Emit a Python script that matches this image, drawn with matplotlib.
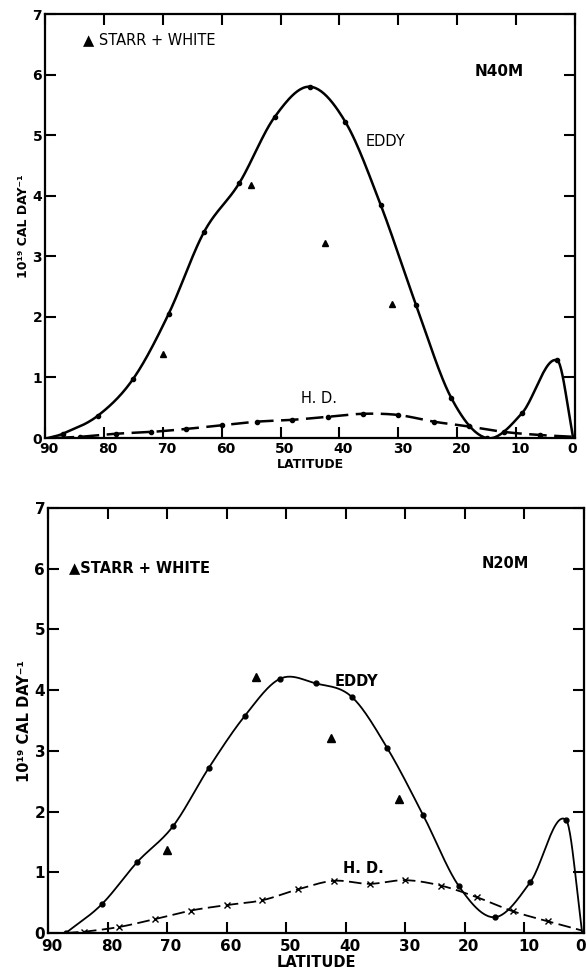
import numpy as np
import matplotlib
matplotlib.use("Agg")
import matplotlib.pyplot as plt
import matplotlib.transforms as mtransforms

plt.rcParams['font.family'] = ['DejaVu Sans']

# --- N40M (upper panel) ---
n40_eddy_lat = [89.5, 87, 81, 75, 69, 63, 57, 51, 45, 39, 33, 27, 21, 15, 9, 3, 0.3]
n40_eddy_val = [0.0, 0.07, 0.37, 0.98, 2.05, 3.40, 4.21, 5.30, 5.80, 5.22, 3.85, 2.20, 0.66, 0.0, 0.41, 1.28, 0.0]
n40_hd_lat = [88, 84, 78, 72, 66, 60, 54, 48, 42, 36, 30, 24, 18, 12, 6, 0.3]
n40_hd_val = [0.0, 0.02, 0.07, 0.10, 0.15, 0.21, 0.27, 0.30, 0.35, 0.40, 0.38, 0.27, 0.19, 0.10, 0.05, 0.02]
n40_sw_val = [1.38, 4.18, 3.22, 2.22]

# --- N20M (lower panel) ---
n20_eddy_lat = [87, 81, 75, 69, 63, 57, 51, 45, 39, 33, 27, 21, 15, 9, 3, 0.3]
n20_eddy_val = [0.0, 0.47, 1.17, 1.76, 2.72, 3.57, 4.19, 4.11, 3.89, 3.04, 1.94, 0.77, 0.26, 0.84, 1.86, 0.0]
n20_hd_lat = [87, 84, 78, 72, 66, 60, 54, 48, 42, 36, 30, 24, 18, 12, 6, 0.3]
n20_hd_val = [0.0, 0.02, 0.10, 0.23, 0.37, 0.46, 0.54, 0.72, 0.86, 0.81, 0.87, 0.78, 0.59, 0.36, 0.19, 0.04]
n20_sw_val = [1.36, 4.21, 3.21, 2.21]

# Starr + White latitudes
sw_lat = [70, 55, 42.5, 31]

xticks = [90, 80, 70, 60, 50, 40, 30, 20, 10, 0]
yticks = [0, 1, 2, 3, 4, 5, 6, 7]


def smooth(x, y, n=25):
    # cubic hermite curve through the read points (only for drawing)
    x = np.asarray(x, float)
    y = np.asarray(y, float)
    m = np.empty_like(y)
    m[1:-1] = (y[2:] - y[:-2]) / (x[2:] - x[:-2])
    m[0] = (y[1] - y[0]) / (x[1] - x[0])
    m[-1] = (y[-1] - y[-2]) / (x[-1] - x[-2])
    xs, ys = [], []
    t = np.linspace(0, 1, n, endpoint=False)
    for i in range(len(x) - 1):
        h = x[i + 1] - x[i]
        h00 = 2 * t**3 - 3 * t**2 + 1
        h10 = t**3 - 2 * t**2 + t
        h01 = -2 * t**3 + 3 * t**2
        h11 = t**3 - t**2
        xs.append(x[i] + t * h)
        ys.append(h00 * y[i] + h10 * h * m[i] + h01 * y[i + 1] + h11 * h * m[i + 1])
    xs.append([x[-1]])
    ys.append([y[-1]])
    return np.concatenate(xs), np.concatenate(ys)


def style_axes(fig, ax, big=False):
    ax.set_xlim(90, 0)
    ax.set_ylim(0, 7)
    ax.set_xticks(xticks)
    ax.set_yticks(yticks)
    fs = 11 if big else 10
    ax.set_xticklabels([str(v) for v in xticks], fontsize=fs, fontweight='bold')
    ax.set_yticklabels([str(v) for v in yticks], fontsize=fs, fontweight='bold')
    ax.tick_params(direction='in', length=8, width=1.5, top=True, right=True, pad=2)
    ax.tick_params(axis='x', pad=4 if big else 3)
    for s in ax.spines.values():
        s.set_linewidth(1.6)
    # labels sit a little right of their ticks, as in the print
    shift = mtransforms.ScaledTranslation(4 / 100, 0, fig.dpi_scale_trans)
    labs = ax.get_xticklabels()
    for lab in labs[:-1]:
        lab.set_transform(lab.get_transform() + shift)
    labs[-1].set_horizontalalignment('right')
    labs[-1].set_transform(labs[-1].get_transform()
                           + mtransforms.ScaledTranslation(2 / 100, 0, fig.dpi_scale_trans))
    ax.set_xlabel('LATITUDE', fontsize=9 if not big else 10.5, fontweight='bold', labelpad=1)
    ax.set_ylabel('10¹⁹ CAL DAY⁻¹', fontsize=9 if not big else 10.5, fontweight='bold', labelpad=2)


fig = plt.figure(figsize=(5.86, 9.74), dpi=100)

# upper panel
ax1 = fig.add_axes([0.0768, 0.5503, 0.9044, 0.4353])
sx, sy = smooth(n40_eddy_lat, n40_eddy_val)
ax1.plot(sx, sy, color='black', lw=1.8)
ax1.plot(n40_eddy_lat[1:-1], n40_eddy_val[1:-1], 'o', color='black', ms=3)
sx, sy = smooth(n40_hd_lat, n40_hd_val)
ax1.plot(sx, sy, color='black', lw=1.8, dashes=(7, 3))
ax1.plot(n40_hd_lat[1:-1], n40_hd_val[1:-1], 'o', color='black', ms=3)
ax1.plot(sw_lat, n40_sw_val, '^', color='black', ms=5)
style_axes(fig, ax1)
ax1.text(83.5, 6.58, '▲ STARR + WHITE', fontsize=10.5, va='center', ha='left')
ax1.text(17, 6.05, 'N40M', fontsize=11, fontweight='bold', va='center', ha='left')
ax1.text(35.6, 4.9, 'EDDY', fontsize=10.5, va='center', ha='left')
ax1.text(43.5, 0.65, 'H. D.', fontsize=10.5, va='center', ha='center')

# lower panel
ax2 = fig.add_axes([0.0819, 0.0421, 0.9147, 0.4363])
sx, sy = smooth(n20_eddy_lat, n20_eddy_val)
ax2.plot(sx, sy, color='black', lw=1.3)
ax2.plot(n20_eddy_lat[:-1], n20_eddy_val[:-1], 'o', color='black', ms=3.5)
sx, sy = smooth(n20_hd_lat, n20_hd_val)
ax2.plot(sx, sy, color='black', lw=1.3, dashes=(7, 3))
ax2.plot(n20_hd_lat[1:-1], n20_hd_val[1:-1], 'x', color='black', ms=4, mew=1)
ax2.plot(sw_lat, n20_sw_val, '^', color='black', ms=6)
style_axes(fig, ax2, big=True)
ax2.text(86.5, 6.02, '▲STARR + WHITE', fontsize=10.5, fontweight='bold', va='center', ha='left')
ax2.text(17.2, 6.08, 'N20M', fontsize=10.5, fontweight='bold', va='center', ha='left')
ax2.text(41.8, 4.15, 'EDDY', fontsize=10.5, fontweight='bold', va='center', ha='left')
ax2.text(40.5, 1.06, 'H. D.', fontsize=10.5, fontweight='bold', va='center', ha='left')

fig.savefig('out.png', dpi=100)
